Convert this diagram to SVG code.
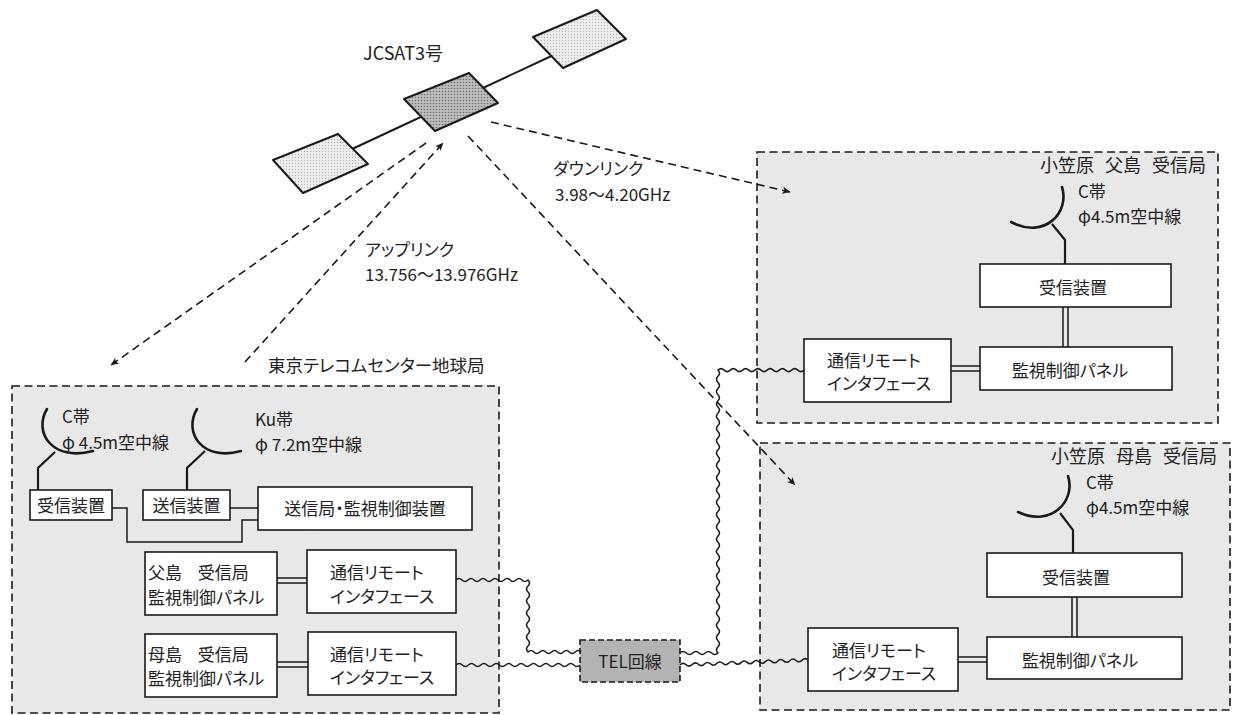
<svg xmlns="http://www.w3.org/2000/svg" width="1233" height="715" viewBox="0 0 1233 715">
  <defs>
    <style>
      .t { font-family: "Noto Sans CJK JP", "Noto Sans", sans-serif; font-size: 17px; fill: #222; font-feature-settings: "palt"; }
      .m { text-anchor: middle; }
      .e { text-anchor: end; }
      .ws { word-spacing: 12px; }
      .title { font-size: 18px; word-spacing: 7px; }
      .box { fill: #fff; stroke: #1a1a1a; stroke-width: 1.6; }
      .station { fill: #e8e8e8; stroke: #1a1a1a; stroke-width: 1.6; stroke-dasharray: 8 4.5; }
      .link { fill: none; stroke: #1a1a1a; stroke-width: 1.5; }
      .dish { fill: none; stroke: #1a1a1a; stroke-width: 2.6; stroke-linecap: round; }
      .feed { fill: none; stroke: #1a1a1a; stroke-width: 2.2; stroke-linejoin: miter; }
      .radio { fill: none; stroke: #1a1a1a; stroke-width: 1.6; stroke-dasharray: 8 5; }
      .wave { fill: none; stroke: #1a1a1a; stroke-width: 1.5; }
      .panel { stroke: #1a1a1a; stroke-width: 2; stroke-linejoin: round; }
    </style>
    <pattern id="dotsLight" width="3" height="3" patternUnits="userSpaceOnUse">
      <rect width="3" height="3" fill="#eeeeee"/>
      <circle cx="1.5" cy="1.5" r="0.7" fill="#b8b8b8"/>
    </pattern>
    <pattern id="dotsDark" width="3" height="3" patternUnits="userSpaceOnUse">
      <rect width="3" height="3" fill="#bdbdbd"/>
      <circle cx="1.5" cy="1.5" r="0.8" fill="#6f6f6f"/>
    </pattern>
    <marker id="ah" viewBox="0 0 10 10" refX="9.5" refY="5" markerWidth="11" markerHeight="8" markerUnits="userSpaceOnUse" orient="auto">
      <path d="M0,0.5 L10,5 L0,9.5 L2.5,5 z" fill="#1a1a1a"/>
    </marker>
  </defs>

  <rect width="1233" height="715" fill="#fff"/>

  <!-- station enclosures -->
  <g id="station-tokyo">
    <rect class="station" x="12" y="386" width="487" height="327"/>
    <text class="t" x="268" y="372" style="font-size:17.5px">東京テレコムセンター地球局</text>
  </g>
  <g id="station-chichijima">
    <rect class="station" x="757" y="152" width="461" height="271"/>
    <text class="t e title" x="1206" y="172">小笠原 父島 受信局</text>
  </g>
  <g id="station-hahajima">
    <rect class="station" x="760" y="443" width="470" height="267"/>
    <text class="t e title" x="1217" y="463">小笠原 母島 受信局</text>
  </g>

  <!-- satellite -->
  <g id="satellite">
    <line x1="335" y1="157" x2="560" y2="52" stroke="#1a1a1a" stroke-width="2"/>
    <polygon class="panel" points="273,160 338,134 368,164 303,193" fill="url(#dotsLight)"/>
    <polygon class="panel" points="404,99 469,73 498,103 435,131" fill="url(#dotsDark)"/>
    <polygon class="panel" points="533,37 597,10 626,39 563,68" fill="url(#dotsLight)"/>
    <text class="t" x="363" y="60" style="font-size:18px">JCSAT3号</text>
  </g>

  <!-- radio links -->
  <g id="radio-links">
    <line class="radio" x1="245" y1="362" x2="443" y2="143" marker-end="url(#ah)"/>
    <line class="radio" x1="426" y1="143" x2="111" y2="365" marker-end="url(#ah)"/>
    <line class="radio" x1="491" y1="122" x2="790" y2="192" marker-end="url(#ah)"/>
    <line class="radio" x1="468" y1="136" x2="795" y2="485" marker-end="url(#ah)"/>
    <text class="t" x="365" y="256">アップリンク</text>
    <text class="t" x="365" y="281">13.756～13.976GHz</text>
    <text class="t" x="553" y="175">ダウンリンク</text>
    <text class="t" x="555" y="201">3.98～4.20GHz</text>
  </g>

  <!-- Tokyo station equipment -->
  <g id="tokyo-c-antenna">
    <path class="dish" d="M47,409 C33,432 52,462 93,451"/>
    <path class="feed" d="M55,452 L38,468 L38,490"/>
    <text class="t" x="62" y="423">C帯</text>
    <text class="t" x="62" y="449">φ 4.5m空中線</text>
  </g>
  <g id="tokyo-ku-antenna">
    <path class="dish" d="M197,409 C183,432 202,462 241,451"/>
    <path class="feed" d="M205,451 L187,468 L187,490"/>
    <text class="t" x="255" y="426">Ku帯</text>
    <text class="t" x="255" y="451">φ 7.2m空中線</text>
  </g>
  <g id="tokyo-receiver">
    <rect class="box" x="30" y="490" width="82" height="30"/>
    <text class="t m" x="71" y="512">受信装置</text>
  </g>
  <g id="tokyo-transmitter">
    <rect class="box" x="143" y="490" width="87" height="30"/>
    <text class="t m" x="186.5" y="512">送信装置</text>
  </g>
  <g id="tokyo-control">
    <rect class="box" x="258" y="487" width="214" height="43"/>
    <text class="t m" x="365" y="515">送信局・監視制御装置</text>
  </g>
  <g id="tokyo-chichi-panel">
    <rect class="box" x="145" y="552" width="132" height="63"/>
    <text class="t ws" x="148" y="579">父島 受信局</text>
    <text class="t" x="148" y="604">監視制御パネル</text>
  </g>
  <g id="tokyo-chichi-if">
    <rect class="box" x="307" y="550" width="149" height="63"/>
    <text class="t" x="330" y="579">通信リモート</text>
    <text class="t" x="330" y="603">インタフェース</text>
  </g>
  <g id="tokyo-haha-panel">
    <rect class="box" x="145" y="634" width="132" height="63"/>
    <text class="t ws" x="148" y="661">母島 受信局</text>
    <text class="t" x="148" y="685">監視制御パネル</text>
  </g>
  <g id="tokyo-haha-if">
    <rect class="box" x="308" y="632" width="148" height="63"/>
    <text class="t" x="330" y="661">通信リモート</text>
    <text class="t" x="330" y="684">インタフェース</text>
  </g>

  <!-- Chichijima station equipment -->
  <g id="chichi-antenna">
    <path class="dish" d="M1062,187 C1070,212 1045,240 1011,222"/>
    <path class="feed" d="M1052,224 L1065,240 L1065,264"/>
    <text class="t" x="1078" y="198">C帯</text>
    <text class="t" x="1078" y="223">φ4.5m空中線</text>
  </g>
  <g id="chichi-receiver">
    <rect class="box" x="980" y="264" width="191" height="43"/>
    <text class="t m" x="1073" y="294">受信装置</text>
  </g>
  <g id="chichi-panel">
    <rect class="box" x="980" y="347" width="192" height="43"/>
    <text class="t m" x="1070" y="377">監視制御パネル</text>
  </g>
  <g id="chichi-if">
    <rect class="box" x="804" y="339" width="147" height="63"/>
    <text class="t" x="827" y="367">通信リモート</text>
    <text class="t" x="827" y="390">インタフェース</text>
  </g>

  <!-- Hahajima station equipment -->
  <g id="haha-antenna">
    <path class="dish" d="M1068,476 C1076,500 1052,528 1018,512"/>
    <path class="feed" d="M1060,513 L1073,530 L1073,553"/>
    <text class="t" x="1086" y="489">C帯</text>
    <text class="t" x="1086" y="514">φ4.5m空中線</text>
  </g>
  <g id="haha-receiver">
    <rect class="box" x="987" y="553" width="195" height="44"/>
    <text class="t m" x="1076" y="584">受信装置</text>
  </g>
  <g id="haha-panel">
    <rect class="box" x="987" y="637" width="195" height="42"/>
    <text class="t m" x="1080" y="667">監視制御パネル</text>
  </g>
  <g id="haha-if">
    <rect class="box" x="808" y="628" width="150" height="63"/>
    <text class="t" x="832" y="657">通信リモート</text>
    <text class="t" x="832" y="680">インタフェース</text>
  </g>

  <!-- telephone line hub -->
  <g id="tel-line">
    <rect x="580" y="640" width="100" height="42" fill="#b3b3b3" stroke="#1a1a1a" stroke-width="1.6" stroke-dasharray="6 3"/>
    <text class="t m" x="630" y="668">TEL回線</text>
  </g>

  <!-- connectors -->
  <g id="connectors">
    <!-- single wiring inside Tokyo station -->
    <path class="link" d="M112,508 H127 V542 H242 V520 H258"/>
    <path class="link" d="M230,508 H258"/>
    <!-- double wiring -->
    <path class="link" d="M277,578 H307 M277,583 H307"/>
    <path class="link" d="M277,662 H308 M277,667 H308"/>
    <path class="link" d="M1063,307 V347 M1068,307 V347"/>
    <path class="link" d="M951,366 H980 M951,371 H980"/>
    <path class="link" d="M1072,597 V637 M1077,597 V637"/>
    <path class="link" d="M958,657 H987 M958,662 H987"/>
    <!-- telephone circuits -->
    <path class="wave" d="M456,580 q3,-3 6,0 t6,0 6,0 6,0 6,0 6,0 6,0 6,0 6,0 6,0 6,0 6,0 q3,3 0,6 t0,6 0,6 0,6 0,6 0,6 0,6 0,6 0,6 0,6 0,6 0,6 q2.95,-3 5.9,0 t5.9,0 5.9,0 5.9,0 5.9,0 5.9,0 5.9,0 5.9,0 5.9,0"/>
    <path class="wave" d="M456,665 q3.1,-3 6.2,0 t6.2,0 6.2,0 6.2,0 6.2,0 6.2,0 6.2,0 6.2,0 6.2,0 6.2,0 6.2,0 6.2,0 6.2,0 6.2,0 6.2,0 6.2,0 6.2,0 6.2,0 6.2,0 6.2,0"/>
    <path class="wave" d="M680,653 q3.17,-3 6.33,0 t6.33,0 6.33,0 6.33,0 6.33,0 6.33,0 q-3,-3.08 0,-6.15 t0,-6.15 0,-6.15 0,-6.15 0,-6.15 0,-6.15 0,-6.15 0,-6.15 0,-6.15 0,-6.15 0,-6.15 0,-6.15 0,-6.15 0,-6.15 0,-6.15 0,-6.15 0,-6.15 0,-6.15 0,-6.15 0,-6.15 0,-6.15 0,-6.15 0,-6.15 0,-6.15 0,-6.15 0,-6.15 0,-6.15 0,-6.15 0,-6.15 0,-6.15 0,-6.15 0,-6.15 0,-6.15 0,-6.15 0,-6.15 0,-6.15 0,-6.15 0,-6.15 0,-6.15 0,-6.15 0,-6.15 0,-6.15 0,-6.15 0,-6.15 0,-6.15 0,-6.15 q3.07,-3 6.14,0 t6.14,0 6.14,0 6.14,0 6.14,0 6.14,0 6.14,0 6.14,0 6.14,0 6.14,0 6.14,0 6.14,0 6.14,0 6.14,0"/>
    <path class="wave" d="M680,665 q3.05,-3.1 6.1,-0.24 t6.1,-0.24 6.1,-0.24 6.1,-0.24 6.1,-0.24 6.1,-0.24 6.1,-0.24 6.1,-0.24 6.1,-0.24 6.1,-0.24 6.1,-0.24 6.1,-0.24 6.1,-0.24 6.1,-0.24 6.1,-0.24 6.1,-0.24 6.1,-0.24 6.1,-0.24 6.1,-0.24 6.1,-0.24 6.1,-0.24"/>
  </g>
</svg>
